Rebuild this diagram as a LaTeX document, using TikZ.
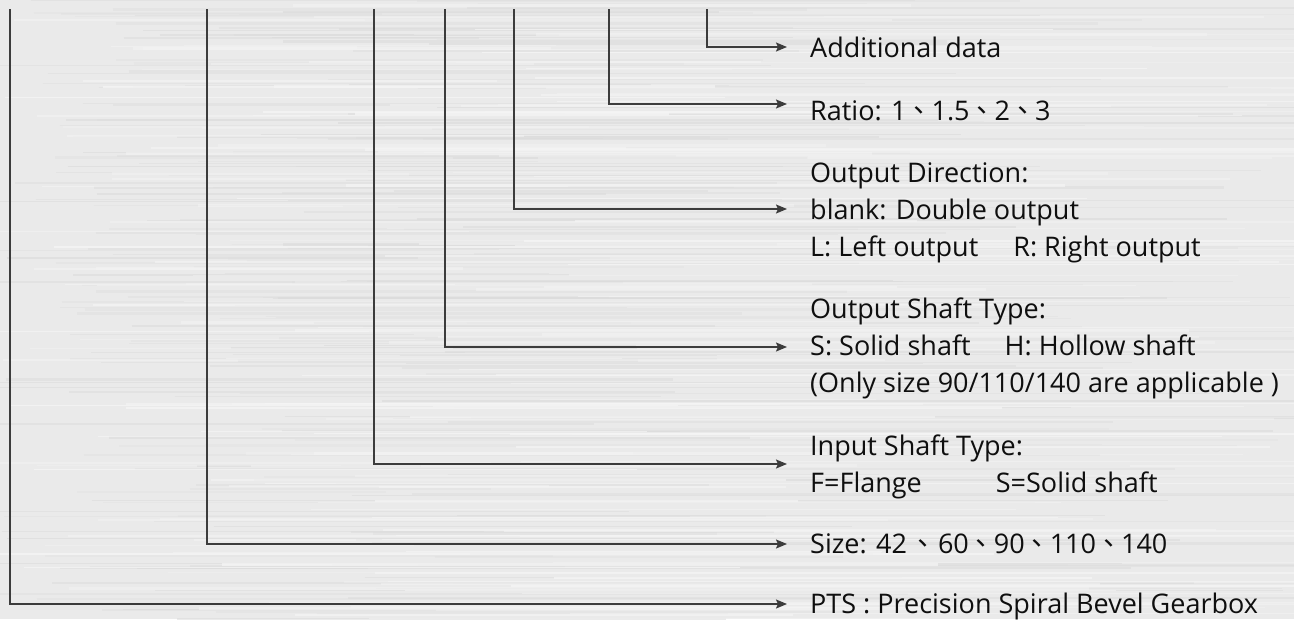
\documentclass[tikz,border=0pt]{standalone}
\usepackage{fontspec}
\setmainfont{Open Sans}
\newfontfamily\cjk{Noto Sans CJK TC}
\usetikzlibrary{arrows.meta}
\definecolor{bg}{RGB}{234,234,234}
\definecolor{ln}{RGB}{60,60,60}
\definecolor{tx}{RGB}{15,15,15}
\definecolor{stdark}{RGB}{218,218,218}
\definecolor{stlight}{RGB}{245,245,245}
\newcommand\dun{\kern-1pt{\cjk 、}\kern-1pt}
\begin{document}
\begin{tikzpicture}[x=1pt,y=-1pt,
  conn/.style={draw=ln, line width=1.6pt, -{Stealth[length=11pt,width=9pt,inset=2pt]}},
  lbl/.style={anchor=base west, inner sep=0pt, align=left, text=tx, font=\fontsize{27}{37}\selectfont},
]
\useasboundingbox (0,0) rectangle (1294,619);
% brushed metal background
\fill[bg] (0,0) rectangle (1294,619);
\pgfmathsetseed{11}
\foreach \i in {1,...,220}{
  \pgfmathsetmacro\yy{rnd*619}
  \pgfmathsetmacro\xa{-20+rnd*500}
  \pgfmathsetmacro\xb{\xa+300+rnd*900}
  \pgfmathsetmacro\op{0.2+0.4*rnd}
  \pgfmathsetmacro\lw{0.6+rnd*2.2}
  \draw[stdark, opacity=\op, line width=\lw pt] (\xa,\yy) -- (\xb,\yy);
}
\foreach \i in {1,...,160}{
  \pgfmathsetmacro\yy{rnd*619}
  \pgfmathsetmacro\xa{-20+rnd*600}
  \pgfmathsetmacro\xb{\xa+300+rnd*900}
  \pgfmathsetmacro\op{0.3+0.5*rnd}
  \pgfmathsetmacro\lw{0.6+rnd*2.2}
  \draw[stlight, opacity=\op, line width=\lw pt] (\xa,\yy) -- (\xb,\yy);
}

% labels (base anchor = baseline of the last line)
\node[lbl] (la) at (810,57) {Additional data};
\node[lbl] (lb) at (810,120) {Ratio: 1\dun 1.5\dun 2\dun 3};
\node[lbl] (lc) at (810,256) {Output Direction:\\blank: Double output\\L: Left output\hspace*{35pt}R: Right output};
\node[lbl] (ld) at (810,392) {Output Shaft Type:\\S: Solid shaft\hspace*{34pt}H: Hollow shaft\\(Only size 90/110/140 are applicable )};
\node[lbl] (le) at (810,492) {Input Shaft Type:\\F=Flange\hspace*{74pt}S=Solid shaft};
\node[lbl] (lf) at (810,553) {Size: 42\kern3pt\dun\kern3pt 60\dun 90\dun 110\dun 140};
\node[lbl] (lg) at (810,613) {PTS : Precision Spiral Bevel Gearbox};

% source and target coordinates
\coordinate (sa) at (707,9);  \coordinate (ta) at (787,47);
\coordinate (sb) at (609,9);  \coordinate (tb) at (787,104);
\coordinate (sc) at (514,9);  \coordinate (tc) at (787,209);
\coordinate (sd) at (445,9);  \coordinate (td) at (787,347);
\coordinate (se) at (374,9);  \coordinate (te) at (787,464);
\coordinate (sf) at (207,9);  \coordinate (tf) at (787,544);
\coordinate (sg) at (10,9);   \coordinate (tg) at (787,604);

\foreach \k in {a,b,c,d,e,f,g}{
  \draw[conn] (s\k) |- (t\k);
}
\end{tikzpicture}
\end{document}
